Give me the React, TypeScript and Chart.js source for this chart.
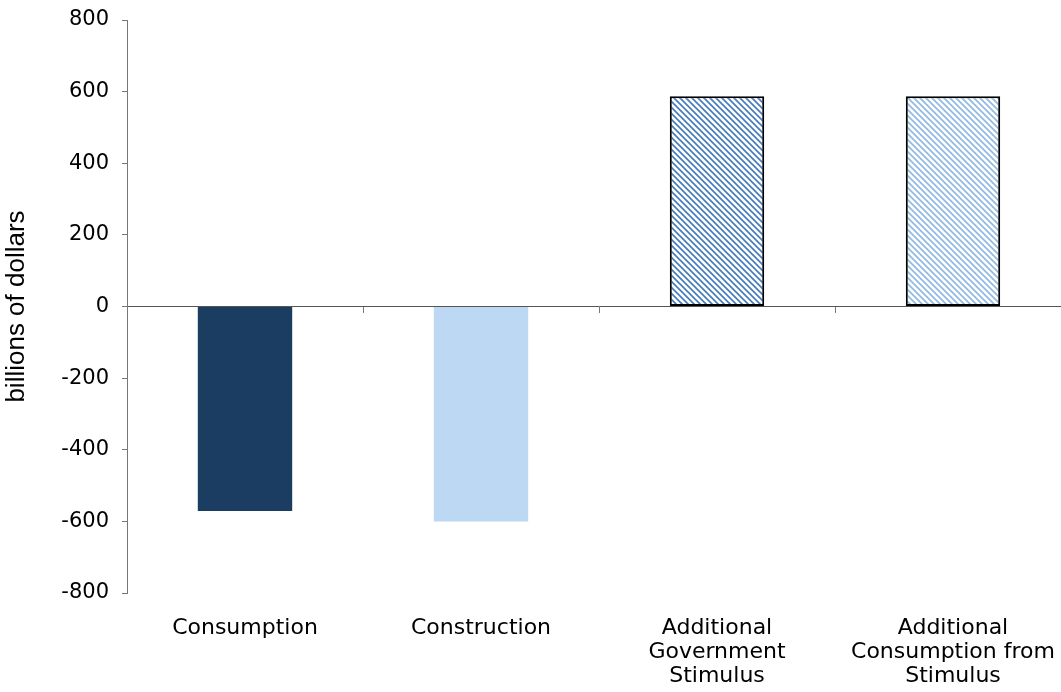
import React, { useEffect, useRef } from "react";
import { Chart, registerables } from "chart.js";

Chart.register(...registerables);

// Categories (multi-line tick labels) and values in billions of dollars
const categories: string[][] = [
  ["Consumption"],
  ["Construction"],
  ["Additional", "Government", "Stimulus"],
  ["Additional", "Consumption from", "Stimulus"],
];
const values: number[] = [-571, -600, 587, 587];
const yMin = -800;
const yMax = 800;
const yStep = 200;
const yTitle = "billions of dollars";

// Diagonal hatch fill (top-left to bottom-right strokes)
function makeHatch(color: string): CanvasPattern | string {
  const size = 6;
  const c = document.createElement("canvas");
  c.width = size;
  c.height = size;
  const ctx = c.getContext("2d");
  if (!ctx) return color;
  ctx.fillStyle = "#ffffff";
  ctx.fillRect(0, 0, size, size);
  ctx.strokeStyle = color;
  ctx.lineWidth = 1.7;
  ctx.beginPath();
  ctx.moveTo(-1, -1);
  ctx.lineTo(size + 1, size + 1);
  ctx.moveTo(-1, size - 1);
  ctx.lineTo(1, size + 1);
  ctx.moveTo(size - 1, -1);
  ctx.lineTo(size + 1, 1);
  ctx.stroke();
  const p = ctx.createPattern(c, "repeat");
  return p ?? color;
}

export default function App() {
  const canvasRef = useRef<HTMLCanvasElement | null>(null);

  useEffect(() => {
    const canvas = canvasRef.current;
    if (!canvas) return;

    const fills = [
      "#1b3d61",
      "#bdd8f3",
      makeHatch("#4a7dbd"),
      makeHatch("#92b9e3"),
    ];

    const chart = new Chart(canvas, {
      type: "bar",
      data: {
        labels: categories,
        datasets: [
          {
            data: values,
            backgroundColor: fills as any,
            borderColor: "#000000",
            borderWidth: [0, 0, 2, 2] as any,
            borderSkipped: false,
            categoryPercentage: 1,
            barPercentage: 0.4,
          },
        ],
      },
      options: {
        animation: false,
        responsive: false,
        devicePixelRatio: 1,
        layout: { padding: { top: 20, right: 1, bottom: 0, left: 0 } },
        plugins: {
          legend: { display: false },
          tooltip: { enabled: false },
        },
        scales: {
          x: {
            type: "category",
            position: "bottom",
            offset: true,
            grid: { display: false },
            border: { display: false },
            ticks: {
              color: "#000000",
              autoSkip: false,
              maxRotation: 0,
              minRotation: 0,
              padding: 15,
              font: { family: "DejaVu Sans", size: 22, lineHeight: 1.1 },
            },
            afterFit: (scale: any) => {
              scale.height = 99;
              scale.paddingLeft = 0;
              scale.paddingRight = 0;
            },
          },
          zero: {
            type: "category",
            axis: "x",
            labels: categories as any,
            position: { y: 0 },
            offset: true,
            grid: {
              offset: true,
              drawOnChartArea: false,
              drawTicks: true,
              tickLength: 6,
              color: "#777777",
              lineWidth: 1,
            },
            border: { display: true, color: "#555555", width: 1 },
            ticks: { display: false },
            afterFit: (scale: any) => {
              scale.paddingLeft = 0;
              scale.paddingRight = 0;
            },
          } as any,
          y: {
            type: "linear",
            min: yMin,
            max: yMax,
            ticks: {
              stepSize: yStep,
              color: "#000000",
              padding: 13,
              font: { family: "DejaVu Sans", size: 21 },
            },
            grid: {
              drawOnChartArea: false,
              drawTicks: true,
              tickLength: 5,
              color: "#777777",
            },
            border: { display: true, color: "#777777", width: 1 },
            title: {
              display: true,
              text: yTitle,
              color: "#000000",
              font: { family: "Liberation Sans", size: 26 },
              padding: { top: 1, bottom: 0 },
            },
            afterFit: (scale: any) => {
              scale.width = 127;
              scale.paddingTop = 0;
              scale.paddingBottom = 0;
            },
          },
        },
      },
    });

    return () => {
      chart.destroy();
    };
  }, []);

  return (
    <div
      style={{
        position: "fixed",
        left: 0,
        top: 0,
        width: 1061,
        height: 692,
        overflow: "hidden",
        background: "#ffffff",
      }}
    >
      <canvas
        ref={canvasRef}
        width={1072}
        height={692}
        style={{ display: "block", width: 1072, height: 692 }}
      />
    </div>
  );
}
